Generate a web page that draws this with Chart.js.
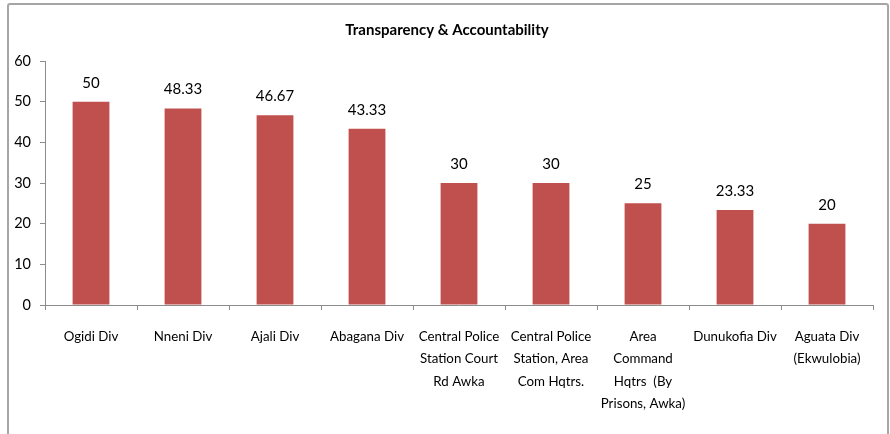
<!DOCTYPE html>
<html>
<head>
<meta charset="utf-8">
<script src="https://cdn.jsdelivr.net/npm/chart.js@4"></script>
<style>
  html, body { margin: 0; padding: 0; background: #fff; overflow: hidden; }
  #wrap { position: relative; width: 890px; height: 434px; overflow: hidden; }
  #frame { position: absolute; left: 7px; top: 3px; width: 878px; height: 460px; border: 2px solid #a6a6a6; border-radius: 3px; pointer-events: none; }
  canvas { position: absolute; left: 0; top: 0; }
</style>
</head>
<body>
<div id="wrap">
  <canvas id="chart" width="890" height="434"></canvas>
  <div id="frame"></div>
</div>
<script>
const chartTitle = 'Transparency & Accountability';
const categories = [
  'Ogidi Div',
  'Nneni Div',
  'Ajali Div',
  'Abagana Div',
  ['Central Police', 'Station Court', 'Rd Awka'],
  ['Central Police', 'Station, Area', 'Com Hqtrs.'],
  ['Area', 'Command', 'Hqtrs  (By', 'Prisons, Awka)'],
  'Dunukofia Div',
  ['Aguata Div', '(Ekwulobia)']
];
const scores = [50, 48.33, 46.67, 43.33, 30, 30, 25, 23.33, 20];
const scoreLabels = ['50', '48.33', '46.67', '43.33', '30', '30', '25', '23.33', '20'];
const yTicks = [0, 10, 20, 30, 40, 50, 60];

const FONT = "Lato, 'Liberation Sans', sans-serif";

// values over the bars + title centred on the frame (Excel style)
const barValues = {
  id: 'barValues',
  afterDatasetsDraw(chart) {
    const ctx = chart.ctx;
    const meta = chart.getDatasetMeta(0);
    ctx.save();
    ctx.font = '15px ' + FONT;
    ctx.fillStyle = '#000';
    ctx.textAlign = 'center';
    ctx.textBaseline = 'middle';
    meta.data.forEach((bar, i) => {
      ctx.fillText(scoreLabels[i], bar.x, bar.y - 19);
    });
    ctx.font = 'bold 15px ' + FONT;
    ctx.fillText(chartTitle, 447, 30);
    ctx.restore();
  }
};

new Chart(document.getElementById('chart'), {
  type: 'bar',
  data: {
    labels: categories,
    datasets: [{
      data: scores,
      backgroundColor: '#C0504D',
      borderWidth: 0,
      barPercentage: 0.4,
      categoryPercentage: 1
    }]
  },
  options: {
    responsive: false,
    animation: false,
    layout: { padding: { left: 0, right: 17, top: 61, bottom: 0 } },
    plugins: {
      legend: { display: false },
      tooltip: { enabled: false },
      title: { display: false }
    },
    scales: {
      x: {
        offset: true,
        grid: { offset: true, drawOnChartArea: false, drawTicks: true, tickLength: 5, color: '#8c8c8c' },
        border: { display: true, color: '#8c8c8c' },
        ticks: {
          color: '#000',
          font: { family: FONT, size: 13.3, lineHeight: 1.7 },
          maxRotation: 0, minRotation: 0, autoSkip: false, padding: 15
        },
        afterFit(scale) { scale.height = 129; }
      },
      y: {
        min: 0, max: 60,
        afterBuildTicks(scale) { scale.ticks = yTicks.map(v => ({ value: v })); },
        grid: { drawOnChartArea: false, drawTicks: true, tickLength: 5, color: '#8c8c8c' },
        border: { display: true, color: '#8c8c8c' },
        ticks: {
          color: '#000',
          font: { family: FONT, size: 14.5 },
          padding: 9
        },
        afterFit(scale) { scale.width = 45; }
      }
    }
  },
  plugins: [barValues]
});
</script>
</body>
</html>
